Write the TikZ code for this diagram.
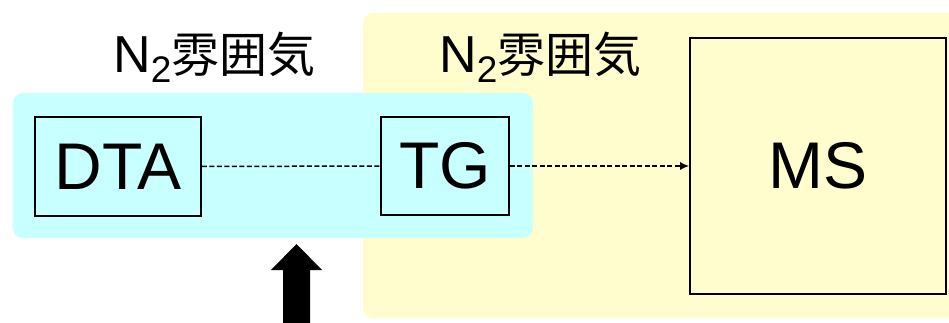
\documentclass[tikz,border=0pt]{standalone}
\usepackage{fontspec}
\setmainfont{Liberation Sans}
\newfontfamily\cjk{Noto Sans CJK JP}
\usetikzlibrary{arrows.meta}
\definecolor{cyanbg}{RGB}{200,255,255}
\definecolor{yellowbg}{RGB}{255,253,206}
\begin{document}
\begin{tikzpicture}[x=1pt,y=-1pt,
  unit/.style={draw=black, line width=1.6pt, inner sep=0pt, font=\fontsize{66}{66}\selectfont},
  lbl/.style={anchor=base west, inner sep=0pt, font=\fontsize{52}{52}\selectfont},
  flow/.style={dash pattern=on 5pt off 2.5pt, line width=1.5pt}]
\useasboundingbox (0,0) rectangle (949,323);
\fill[yellowbg, rounded corners=10pt] (363,13) rectangle (975,318);
\fill[cyanbg, rounded corners=10pt] (13,93) rectangle (533,238);
\node[unit, minimum width=166pt, minimum height=99pt] (dta) at (118,166.5) {DTA};
\node[unit, minimum width=128pt, minimum height=98pt] (tg) at (445,166) {TG};
\node[unit, minimum width=256pt, minimum height=256pt] (ms) at (818,166) {MS};
\node[lbl] (l1) at (113,73) {N\raisebox{-10pt}{\fontsize{37}{37}\selectfont 2}{\cjk\fontsize{48}{48}\selectfont 雰囲気}};
\node[lbl] (l2) at (439,73) {N\raisebox{-10pt}{\fontsize{37}{37}\selectfont 2}{\cjk\fontsize{48}{48}\selectfont 雰囲気}};
\draw[flow] (dta.east) -- (tg.west);
\draw[flow, -{Latex[length=9pt,width=8pt]}] (tg.east) -- (ms.west);
\fill[black] (283,335) -- (283,270) -- (271,270) -- (296.5,244) -- (322,270) -- (310,270) -- (310,335) -- cycle;
\end{tikzpicture}
\end{document}
